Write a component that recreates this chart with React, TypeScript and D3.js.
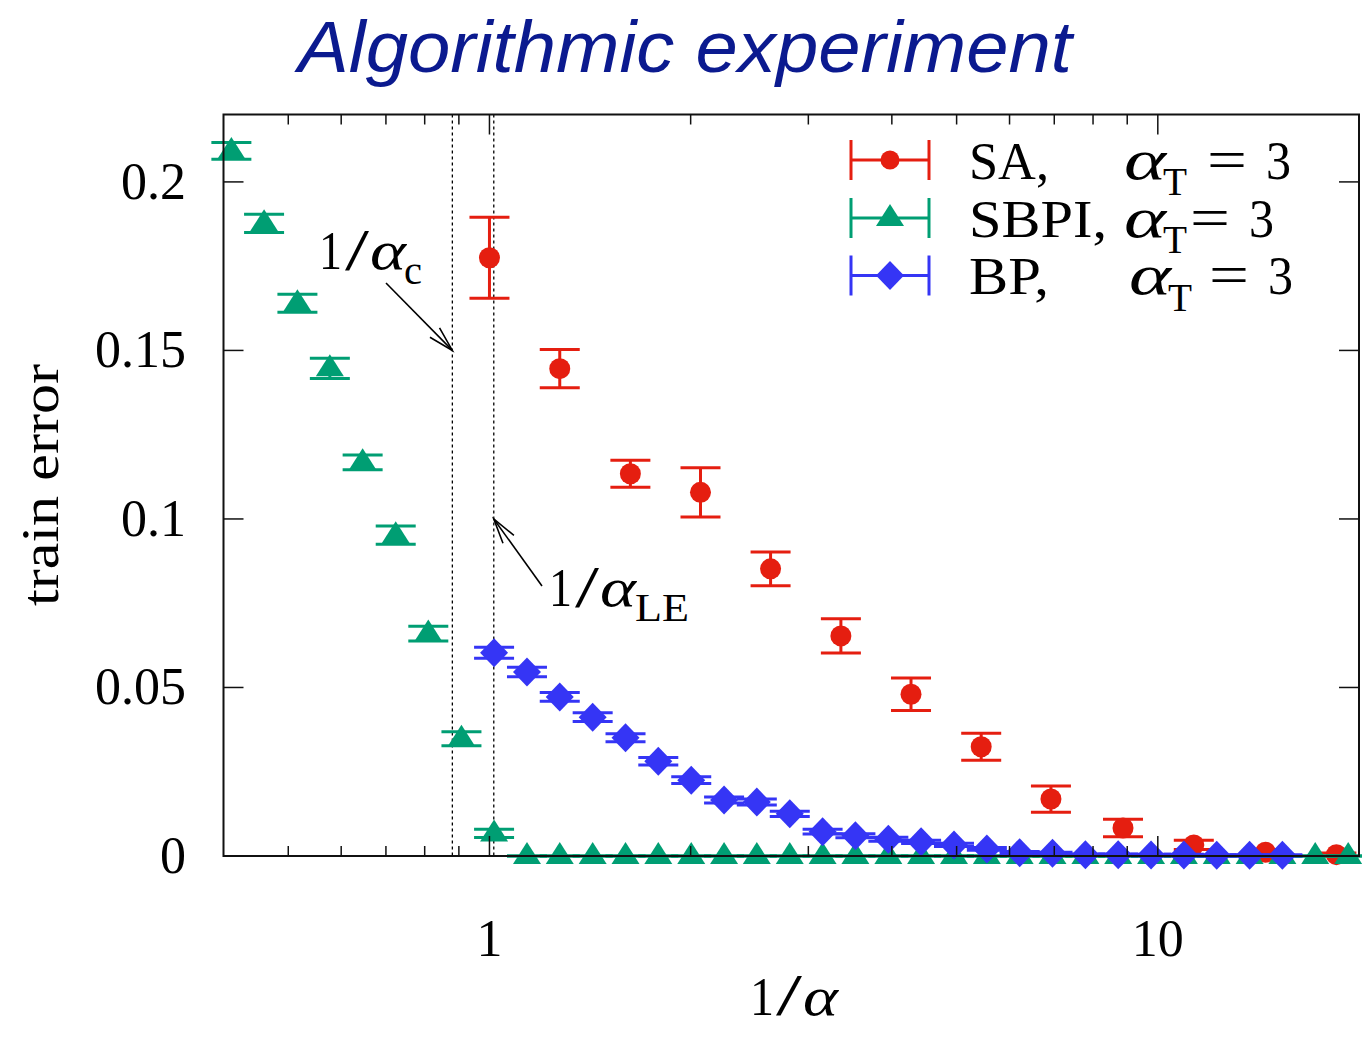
import React from "react";
import * as d3 from "d3";

// ---- data ----
const saX = [1.0, 1.274, 1.625, 2.069, 2.634, 3.356, 4.273, 5.442, 6.92, 8.87, 11.32, 14.49, 18.5];
const saY = [0.1775, 0.1446, 0.1134, 0.1079, 0.0852, 0.0653, 0.048, 0.0324, 0.0169, 0.0083, 0.0033, 0.0011, 0.0004];
const saErr = [0.012, 0.0057, 0.004, 0.0073, 0.005, 0.0051, 0.0048, 0.004, 0.0039, 0.0026, 0.0014, 0.0008, 0.0005];

const sbpiX = [
  0.411, 0.46, 0.516, 0.577, 0.646, 0.724, 0.81, 0.908, 1.016, 1.138, 1.274, 1.427, 1.598, 1.789, 2.004,
  2.244, 2.512, 2.814, 3.151, 3.528, 3.952, 4.424, 4.955, 5.549, 6.213, 6.957, 7.792, 8.724, 9.77, 10.94,
  12.25, 13.72, 15.36, 17.2, 19.27,
];
const sbpiY = [
  0.2092, 0.1877, 0.164, 0.1447, 0.1168, 0.0952, 0.066, 0.0348, 0.0067, 0, 0, 0, 0, 0, 0, 0, 0, 0, 0, 0, 0,
  0, 0, 0, 0, 0, 0, 0, 0, 0, 0, 0, 0, 0, 0,
];
const sbpiErr = [
  0.0025, 0.0027, 0.0027, 0.003, 0.0022, 0.0027, 0.0022, 0.0021, 0.0012, 0, 0, 0, 0, 0, 0, 0, 0, 0, 0, 0, 0,
  0, 0, 0, 0, 0, 0, 0, 0, 0, 0, 0, 0, 0, 0,
];

const bpX = [
  1.016, 1.138, 1.274, 1.427, 1.598, 1.789, 2.004, 2.244, 2.512, 2.814, 3.151, 3.528, 3.952, 4.424, 4.955,
  5.549, 6.213, 6.957, 7.792, 8.724, 9.77, 10.94, 12.25, 13.72, 15.36,
];
const bpY = [
  0.0603, 0.0546, 0.0472, 0.0412, 0.0351, 0.0281, 0.0225, 0.0166, 0.016, 0.0125, 0.0072, 0.006, 0.005,
  0.0042, 0.0033, 0.0021, 0.001, 0.0008, 0.0004, 0.0004, 0.0003, 0.0003, 0.0002, 0.0002, 0.0002,
];
const bpErr = [
  0.0016, 0.0014, 0.0013, 0.0013, 0.0012, 0.0011, 0.001, 0.0009, 0.0009, 0.0008, 0.0007, 0.0006, 0.0006,
  0.0005, 0.0005, 0.0004, 0.0003, 0.0003, 0.0002, 0.0002, 0.0002, 0.0002, 0.0002, 0.0002, 0.0002,
];

const yTicks = [0, 0.05, 0.1, 0.15, 0.2];
const yTickLabels = ["0", "0.05", "0.1", "0.15", "0.2"];
const xMajor = [1, 10];
const xMajorLabels = ["1", "10"];
const xMinor = [0.5, 0.6, 0.7, 0.8, 0.9, 2, 3, 4, 5, 6, 7, 8, 9];
const invAlphaC = 0.88;
const invAlphaLE = 1.015;

const RED = "#e51e10";
const GREEN = "#009e73";
const BLUE = "#3535f5";
const SERIF = "'Liberation Serif', 'DejaVu Serif', serif";

const xS = d3.scaleLog().domain([0.4, 20]).range([223.5, 1359]);
const yS = d3.scaleLinear().domain([0, 0.22]).range([856, 114.5]);

const CAP = 20;

function ErrBar({ cx, v, e, color }: { cx: number; v: number; e: number; color: string }) {
  const x = xS(cx);
  const y0 = yS(v - e);
  const y1 = yS(v + e);
  return (
    <g stroke={color} strokeWidth={3}>
      <line x1={x} x2={x} y1={y0} y2={y1} />
      <line x1={x - CAP} x2={x + CAP} y1={y0} y2={y0} />
      <line x1={x - CAP} x2={x + CAP} y1={y1} y2={y1} />
    </g>
  );
}

function tri(x: number, y: number) {
  return `M${x},${y - 14} L${x + 14},${y + 8} L${x - 14},${y + 8} Z`;
}
function diamond(x: number, y: number) {
  return `M${x},${y - 14.5} L${x + 14},${y} L${x},${y + 14.5} L${x - 14},${y} Z`;
}

function Arrow({ x1, y1, x2, y2 }: { x1: number; y1: number; x2: number; y2: number }) {
  const ang = Math.atan2(y2 - y1, x2 - x1);
  const L = 26;
  const a = (15 * Math.PI) / 180;
  const w1 = [x2 - L * Math.cos(ang - a), y2 - L * Math.sin(ang - a)];
  const w2 = [x2 - L * Math.cos(ang + a), y2 - L * Math.sin(ang + a)];
  return (
    <g stroke="#000" strokeWidth={1.6} fill="none">
      <line x1={x1} y1={y1} x2={x2} y2={y2} />
      <polyline points={`${w1[0]},${w1[1]} ${x2},${y2} ${w2[0]},${w2[1]}`} />
    </g>
  );
}

// a text piece stretched to a given width
function T({
  x,
  y,
  w,
  size,
  italic,
  children,
}: {
  x: number;
  y: number;
  w: number;
  size: number;
  italic?: boolean;
  children: React.ReactNode;
}) {
  return (
    <text
      x={x}
      y={y}
      fontFamily={SERIF}
      fontSize={size}
      fontStyle={italic ? "italic" : "normal"}
      textLength={w}
      lengthAdjust="spacingAndGlyphs"
      fill="#000"
    >
      {children}
    </text>
  );
}

export default function App() {
  const left = xS.range()[0];
  const right = xS.range()[1];
  const top = yS.range()[1];
  const bottom = yS.range()[0];

  const legendRows = [
    { y: 160, name: "SA,", nw: 80, color: RED, marker: "circle", ax: 1124, tx: 1163, eqx: 1207, threex: 1266 },
    { y: 218, name: "SBPI,", nw: 138, color: GREEN, marker: "tri", ax: 1124, tx: 1163, eqx: 1190, threex: 1249 },
    { y: 275.5, name: "BP,", nw: 80, color: BLUE, marker: "diamond", ax: 1129, tx: 1168, eqx: 1209, threex: 1268 },
  ];

  return (
    <svg width={1362} height={1037} style={{ display: "block", position: "absolute", left: 0, top: 0 }}>
      <rect width={1362} height={1037} fill="#fff" />

      {/* title */}
      <text
        x={298}
        y={72}
        fontFamily="'Liberation Sans', Arial, sans-serif"
        fontStyle="italic"
        fontSize={72}
        fill="#0b1a8f"
        textLength={774}
        lengthAdjust="spacingAndGlyphs"
      >
        Algorithmic experiment
      </text>

      {/* dotted verticals */}
      {[invAlphaC, invAlphaLE].map((v, i) => (
        <line
          key={i}
          x1={xS(v)}
          x2={xS(v)}
          y1={top}
          y2={bottom}
          stroke="#000"
          strokeWidth={1.3}
          strokeDasharray="3,3"
        />
      ))}

      {/* SA */}
      <g>
        {saX.map((x, i) => (
          <ErrBar key={i} cx={x} v={saY[i]} e={saErr[i]} color={RED} />
        ))}
        {saX.map((x, i) => (
          <circle key={i} cx={xS(x)} cy={yS(saY[i])} r={10.5} fill={RED} />
        ))}
      </g>
      {/* SBPI */}
      <g>
        {sbpiX.map((x, i) => (
          <ErrBar key={i} cx={x} v={sbpiY[i]} e={sbpiErr[i]} color={GREEN} />
        ))}
        {sbpiX.map((x, i) => (
          <path key={i} d={tri(xS(x), yS(sbpiY[i]))} fill={GREEN} />
        ))}
      </g>
      {/* BP */}
      <g>
        {bpX.map((x, i) => (
          <ErrBar key={i} cx={x} v={bpY[i]} e={bpErr[i]} color={BLUE} />
        ))}
        {bpX.map((x, i) => (
          <path key={i} d={diamond(xS(x), yS(bpY[i]))} fill={BLUE} />
        ))}
      </g>

      {/* border & ticks */}
      <rect x={left} y={top} width={right - left} height={bottom - top} fill="none" stroke="#111" strokeWidth={2} />
      <g stroke="#111" strokeWidth={1.5}>
        {yTicks.map((t, i) => (
          <g key={i}>
            <line x1={left} x2={left + 20} y1={yS(t)} y2={yS(t)} />
            <line x1={right} x2={right - 20} y1={yS(t)} y2={yS(t)} />
          </g>
        ))}
        {xMajor.map((t, i) => (
          <g key={i}>
            <line x1={xS(t)} x2={xS(t)} y1={bottom} y2={bottom - 20} />
            <line x1={xS(t)} x2={xS(t)} y1={top} y2={top + 20} />
          </g>
        ))}
        {xMinor.map((t, i) => (
          <g key={i}>
            <line x1={xS(t)} x2={xS(t)} y1={bottom} y2={bottom - 10} />
            <line x1={xS(t)} x2={xS(t)} y1={top} y2={top + 10} />
          </g>
        ))}
      </g>

      {/* tick labels */}
      <g fontFamily={SERIF} fontSize={52} fill="#000">
        {yTicks.map((t, i) => (
          <text key={i} x={186} y={yS(t) + 17} textAnchor="end">
            {yTickLabels[i]}
          </text>
        ))}
        {xMajor.map((t, i) => (
          <text key={i} x={xS(t)} y={956} textAnchor="middle">
            {xMajorLabels[i]}
          </text>
        ))}
      </g>

      {/* x axis label 1/α */}
      <T x={750} y={1015} w={24} size={54}>1</T>
      <T x={776} y={1015} w={26} size={60}>/</T>
      <T x={803} y={1015} w={35} size={54} italic>α</T>

      {/* y axis label */}
      <text
        transform="translate(58,485) rotate(-90)"
        textAnchor="middle"
        fontFamily={SERIF}
        fontSize={52}
        textLength={242}
        lengthAdjust="spacingAndGlyphs"
      >
        train error
      </text>

      {/* annotation 1/α_c */}
      <T x={319} y={269} w={23} size={54}>1</T>
      <T x={345} y={270} w={24} size={60}>/</T>
      <T x={370} y={269} w={36} size={54} italic>α</T>
      <T x={404} y={284} w={18} size={40}>c</T>
      <Arrow x1={386} y1={283} x2={xS(invAlphaC)} y2={yS(0.15)} />

      {/* annotation 1/α_LE */}
      <T x={549} y={606} w={23} size={54}>1</T>
      <T x={575} y={607} w={24} size={60}>/</T>
      <T x={600} y={606} w={36} size={54} italic>α</T>
      <T x={635} y={621} w={54} size={40}>LE</T>
      <Arrow x1={542} y1={586} x2={xS(invAlphaLE)} y2={yS(0.1)} />

      {/* legend */}
      {legendRows.map((r, i) => (
        <g key={i}>
          <g stroke={r.color} strokeWidth={3}>
            <line x1={851} x2={929} y1={r.y} y2={r.y} />
            <line x1={851} x2={851} y1={r.y - 20} y2={r.y + 20} />
            <line x1={929} x2={929} y1={r.y - 20} y2={r.y + 20} />
          </g>
          {r.marker === "circle" && <circle cx={890} cy={r.y} r={9.5} fill={r.color} />}
          {r.marker === "tri" && <path d={tri(890, r.y)} fill={r.color} />}
          {r.marker === "diamond" && <path d={diamond(890, r.y)} fill={r.color} />}
          <T x={969} y={r.y + 18.5} w={r.nw} size={52}>{r.name}</T>
          <T x={r.ax} y={r.y + 18.5} w={42} size={56} italic>α</T>
          <T x={r.tx} y={r.y + 35} w={24} size={40}>T</T>
          <T x={r.eqx} y={r.y + 18.5} w={40} size={56}>=</T>
          <T x={r.threex} y={r.y + 18.5} w={25} size={54}>3</T>
        </g>
      ))}
    </svg>
  );
}
